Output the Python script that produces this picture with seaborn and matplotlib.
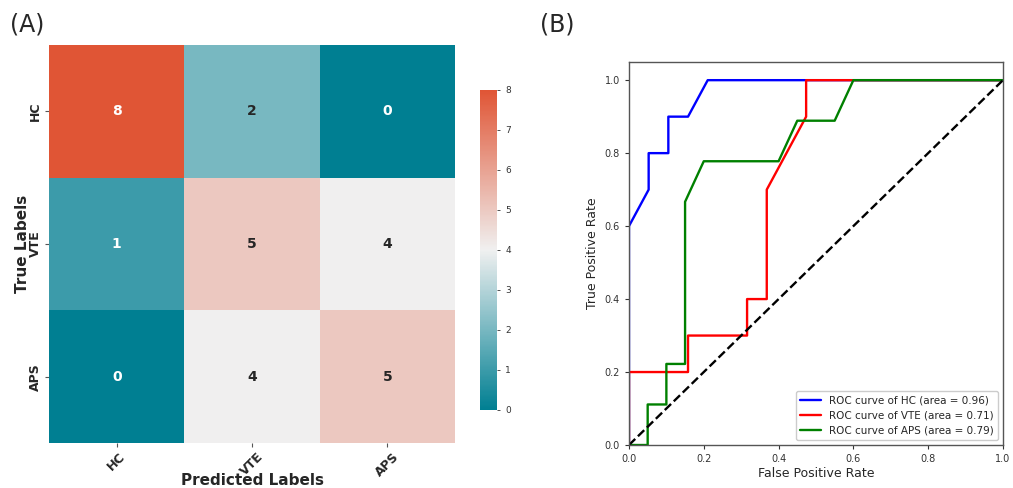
import numpy as np
import pandas as pd
import matplotlib
matplotlib.use("Agg")
import matplotlib.pyplot as plt
import seaborn as sns

classes = ["HC", "VTE", "APS"]
conf = [[8, 2, 0],
        [1, 5, 4],
        [0, 4, 5]]

hc_fpr = [0, 0, 1/19, 1/19, 2/19, 2/19, 3/19, 4/19, 1]
hc_tpr = [0, 0.6, 0.7, 0.8, 0.8, 0.9, 0.9, 1.0, 1.0]
vte_fpr = [0, 0, 3/19, 3/19, 6/19, 6/19, 7/19, 7/19, 9/19, 9/19, 1]
vte_tpr = [0, 0.2, 0.2, 0.3, 0.3, 0.4, 0.4, 0.7, 0.9, 1.0, 1.0]
aps_fpr = [0, 1/20, 1/20, 2/20, 2/20, 3/20, 3/20, 4/20, 8/20, 9/20, 11/20, 12/20, 1]
aps_tpr = [0, 0, 1/9, 1/9, 2/9, 2/9, 6/9, 7/9, 7/9, 8/9, 8/9, 1, 1]
roc_labels = ["ROC curve of HC (area = 0.96)",
              "ROC curve of VTE (area = 0.71)",
              "ROC curve of APS (area = 0.79)"]
roc_colors = ["blue", "red", "green"]

sns.set_style("white")
plt.rcParams['font.family'] = ['DejaVu Sans']

fig = plt.figure(figsize=(10.13, 4.88), dpi=100)
ax1 = fig.add_axes([0.0484, 0.0922, 0.4008, 0.8156])
cax = fig.add_axes([0.4738, 0.16, 0.0168, 0.656])
ax2 = fig.add_axes([0.6209, 0.0881, 0.3692, 0.785])

cmap = sns.blend_palette(["#007f92", "#f0f0f0", "#e05535"], as_cmap=True)
df = pd.DataFrame(conf, index=classes, columns=classes)
sns.heatmap(df, ax=ax1, cbar_ax=cax, cmap=cmap, vmin=0, vmax=8, annot=True,
            fmt="d", annot_kws={"fontsize": 10, "fontweight": "bold"})
ax1.set_xticklabels(classes, rotation=45, fontweight="bold", fontsize=9)
ax1.set_yticklabels(classes, rotation=90, fontweight="bold", fontsize=9, va="center")
ax1.tick_params(axis="both", length=3, width=0.8, color="#555555", left=True, bottom=True, pad=2)
ax1.set_xlabel("Predicted Labels", fontsize=11, fontweight="bold", labelpad=-4)
ax1.set_ylabel("True Labels", fontsize=11, fontweight="bold", labelpad=-1)
cax.tick_params(labelsize=6.5, length=2.5, width=0.6, colors="#333333", right=True)
cax.set_yticks(range(0, 9))

# ROC
dfs = []
for name, f, t in [("HC", hc_fpr, hc_tpr), ("VTE", vte_fpr, vte_tpr), ("APS", aps_fpr, aps_tpr)]:
    dfs.append(pd.DataFrame({"fpr": f, "tpr": t, "cls": name, "order": range(len(f))}))
roc = pd.concat(dfs, ignore_index=True)
for (name, lab, col) in zip(classes, roc_labels, roc_colors):
    sub = roc[roc.cls == name]
    sns.lineplot(data=sub, x="fpr", y="tpr", sort=False, estimator=None, ax=ax2,
                 color=col, lw=1.7, label=lab)
ax2.plot([0, 1], [0, 1], "k--", lw=1.7)
ax2.set_xlim(0, 1.0)
ax2.set_ylim(0, 1.05)
ax2.set_xticks([0, 0.2, 0.4, 0.6, 0.8, 1.0])
ax2.set_yticks([0, 0.2, 0.4, 0.6, 0.8, 1.0])
ax2.tick_params(labelsize=7, length=3, width=0.8, left=True, bottom=True, colors="#333333")
for s in ax2.spines.values():
    s.set_color("#555555")
    s.set_linewidth(1.0)
ax2.set_xlabel("False Positive Rate", fontsize=9, labelpad=2)
ax2.set_ylabel("True Positive Rate", fontsize=9, labelpad=4)
ax2.legend(loc="lower right", fontsize=7.5, frameon=True, framealpha=1)

fig.text(0.010, 0.935, "(A)", fontsize=17)
fig.text(0.533, 0.935, "(B)", fontsize=17)

fig.savefig("out.png", dpi=100)
